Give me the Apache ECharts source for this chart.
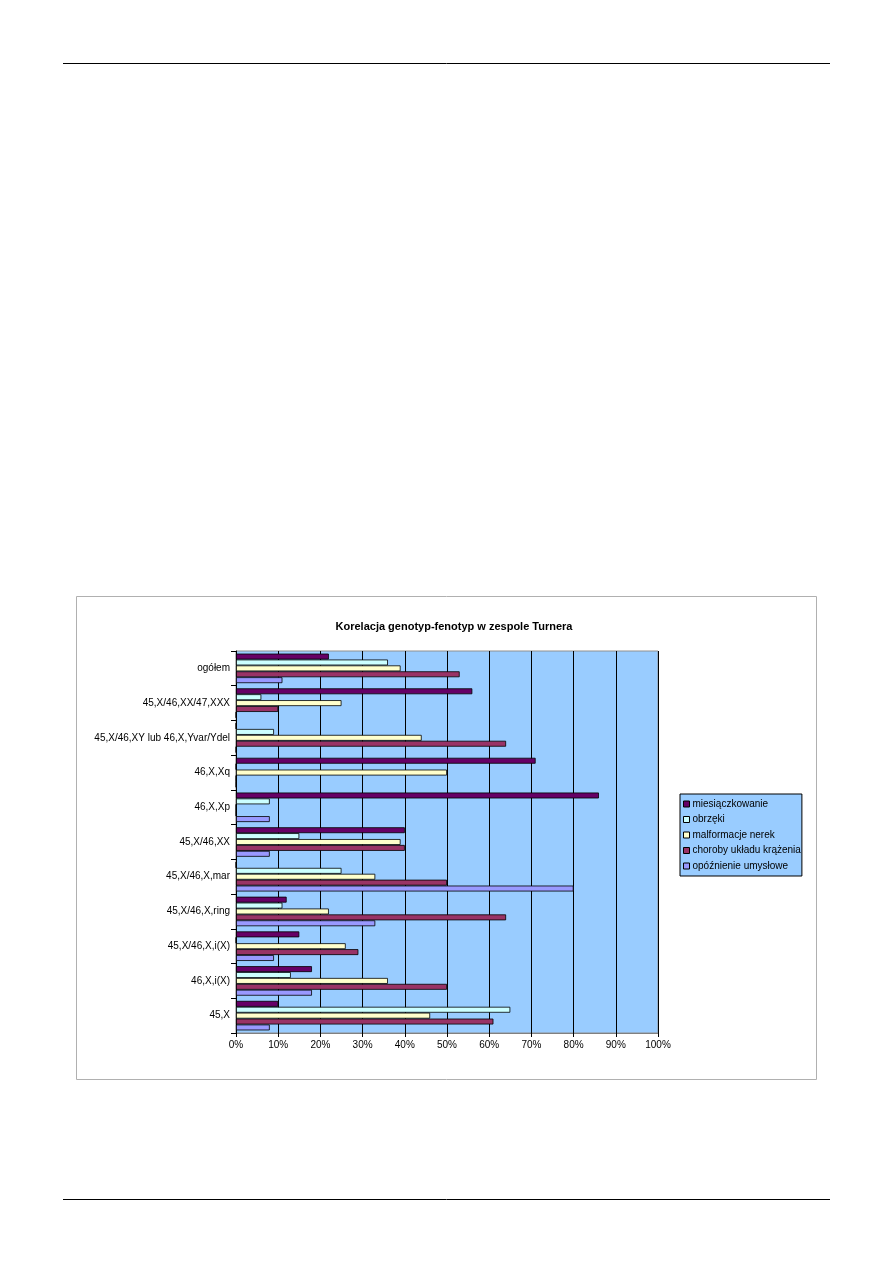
<!DOCTYPE html>
<html><head><meta charset="utf-8">
<script src="https://cdn.jsdelivr.net/npm/echarts@6/dist/echarts.min.js"></script>
<style>html,body{margin:0;padding:0;background:#fff}#c{width:893px;height:1263px}</style>
</head><body><div id="c"></div>
<script>
const categories = ['ogółem','45,X/46,XX/47,XXX','45,X/46,XY lub 46,X,Yvar/Ydel','46,X,Xq','46,X,Xp','45,X/46,XX','45,X/46,X,mar','45,X/46,X,ring','45,X/46,X,i(X)','46,X,i(X)','45,X'];
const seriesNames = ['miesiączkowanie','obrzęki','malformacje nerek','choroby układu krążenia','opóźnienie umysłowe'];
const miesiaczkowanie = [22,56,0,71,86,40,0,12,15,18,10];
const obrzeki =         [36,6,9,0,8,15,25,11,0,13,65];
const malformacje =     [39,25,44,50,0,39,33,22,26,36,46];
const choroby =         [53,10,64,0,0,40,50,64,29,50,61];
const opoznienie =      [11,0,0,0,8,8,80,33,9,18,8];
const xTicks = ['0%','10%','20%','30%','40%','50%','60%','70%','80%','90%','100%'];
const colors = ['#660066','#CCFFFF','#FFFFCC','#993366','#9999FF'];
const values = [miesiaczkowanie, obrzeki, malformacje, choroby, opoznienie];

const chart = echarts.init(document.getElementById('c'), null, {renderer:'canvas'});
const font = '"Liberation Sans", Arial, sans-serif';
chart.setOption({
  animation:false,
  backgroundColor:'#fff',
  title:{text:'Korelacja genotyp-fenotyp w zespole Turnera', left:449, top:616, textAlign:'center',
    textStyle:{fontFamily:font, fontSize:11, fontWeight:'bold', color:'#000'}},
  graphic:[
    {type:'line', shape:{x1:63,y1:63.5,x2:830,y2:63.5}, style:{stroke:'#000', lineWidth:1}},
    {type:'line', shape:{x1:63,y1:1199.5,x2:830,y2:1199.5}, style:{stroke:'#000', lineWidth:1}},
    {type:'rect', shape:{x:76.5,y:596.5,width:740,height:483}, style:{fill:'none', stroke:'#b0b0b0', lineWidth:1}, z:-1}
  ],
  legend:{orient:'vertical', left:680, top:794,
    backgroundColor:'#99CCFF', borderColor:'#000', borderWidth:1, padding:[5,1,5,3],
    itemWidth:6, itemHeight:6, itemGap:5.5, icon:'rect',
    itemStyle:{borderColor:'#000', borderWidth:1},
    textStyle:{fontFamily:font, fontSize:10, color:'#000', padding:[0,0,0,-2], width:111, overflow:'truncate', ellipsis:''},
    data:seriesNames},
  grid:{left:236, top:651, width:422, height:382, backgroundColor:'#99CCFF', show:true, borderColor:'#909090', borderWidth:1},
  xAxis:{type:'value', min:0, max:100, interval:10,
    axisLine:{show:true, lineStyle:{color:'#808080'}},
    axisTick:{show:true, length:4, lineStyle:{color:'#000'}},
    splitLine:{show:true, lineStyle:{color:'#000', width:1}},
    axisLabel:{fontFamily:font, fontSize:10, color:'#000', margin:7, formatter:(v)=>xTicks[Math.round(v/10)]}},
  yAxis:{type:'category', data:categories, inverse:true,
    axisLine:{show:true, lineStyle:{color:'#000'}},
    axisTick:{show:true, length:5, lineStyle:{color:'#000'}},
    axisLabel:{fontFamily:font, fontSize:10, color:'#000', margin:6}},
  series: seriesNames.map((n,i)=>({name:n, type:'bar', data:values[i], barGap:'0%', barCategoryGap:'15%',
    itemStyle:{color:colors[i], borderColor:'#000', borderWidth:0.8}}))
});
</script></body></html>
